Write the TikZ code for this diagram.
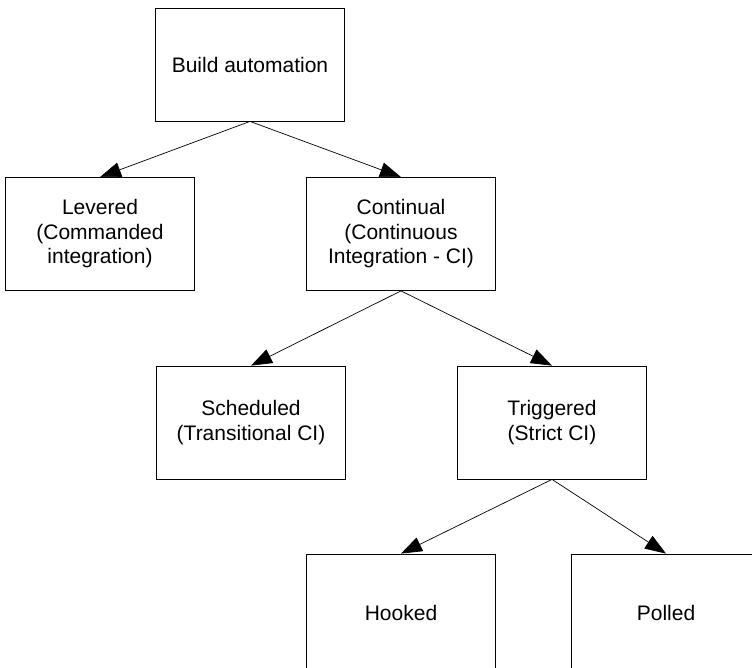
\documentclass[tikz,border=0pt]{standalone}
\usepackage{fontspec}
\setmainfont{Liberation Sans}
\usetikzlibrary{arrows.meta}
\begin{document}
\begin{tikzpicture}[x=1pt,y=-1pt,font=\fontsize{21}{24.5}\selectfont,
  box/.style={draw,line width=0.8pt,minimum width=189pt,minimum height=113pt,align=center,inner sep=0pt},
  arr/.style={-{Triangle[length=21pt,width=15pt]},line width=0.7pt}]
\useasboundingbox (0,0) rectangle (752,667);
\node[box] (build) at (250,64.5) {Build automation};
\node[box] (levered) at (100,234) {Levered\\(Commanded\\integration)};
\node[box] (continual) at (401,234) {Continual\\(Continuous\\Integration - CI)};
\node[box] (scheduled) at (251,422.5) {Scheduled\\(Transitional CI)};
\node[box] (triggered) at (552,422.5) {Triggered\\(Strict CI)};
\node[box,minimum height=118pt] (hooked) at (401,613) {Hooked};
\node[box,minimum height=118pt] (polled) at (666,613) {Polled};
\draw[arr] (build.south) -- (levered.north);
\draw[arr] (build.south) -- (continual.north);
\draw[arr] (continual.south) -- (scheduled.north);
\draw[arr] (continual.south) -- (triggered.north);
\draw[arr] (triggered.south) -- (hooked.north);
\draw[arr] (triggered.south) -- (polled.north);
\end{tikzpicture}
\end{document}
